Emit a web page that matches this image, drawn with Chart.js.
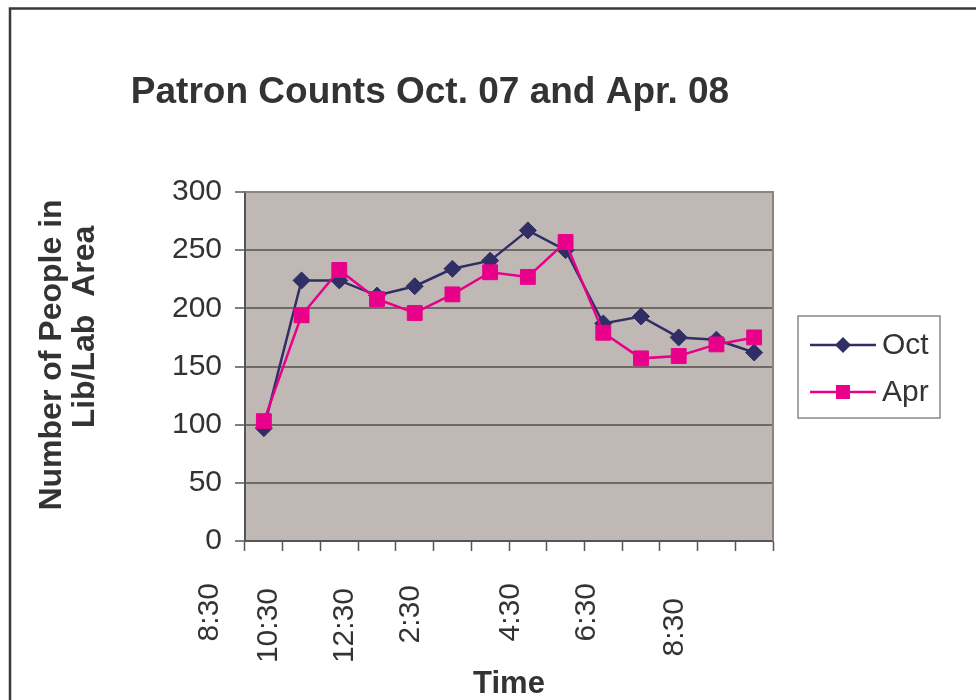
<!DOCTYPE html>
<html>
<head>
<meta charset="utf-8">
<script src="https://cdn.jsdelivr.net/npm/chart.js@4"></script>
<style>
    body { margin: 0; background: #fff; }
    canvas { display: block; }
</style>
</head>
<body>
<canvas id="chart" width="976" height="700"></canvas>
<script>
Chart.defaults.font.family = '"Liberation Sans", Arial, sans-serif'
Chart.defaults.color = '#333'

const times = ['8:30', '9:30', '10:30', '11:30', '12:30', '1:30', '2:30', '3:30', '4:30', '5:30', '6:30', '7:30', '8:30', '9:30']
const oct = [97, 224, 224, 211, 219, 234, 241, 267, 250, 187, 193, 175, 173, 162]
const apr = [103, 194, 233, 208, 196, 212, 231, 227, 257, 179, 157, 159, 169, 175]
const yTicks = [0, 50, 100, 150, 200, 250, 300]
const shownTimes = ['8:30', '10:30', '12:30', '2:30', '4:30', '6:30', '8:30']

// the time labels sit where the spreadsheet left them, not under the ticks
const shownAt = [-1.44, 0.12, 2.14, 3.9, 6.54, 8.55, 10.9]
const shownTop = [583, 588, 588, 585, 583, 583, 598]

const octColor = '#2f2f66'
const aprColor = '#e8008a'


function diamond(ctx, x, y, r) {
    ctx.beginPath()
    ctx.moveTo(x, y - r)
    ctx.lineTo(x + r, y)
    ctx.lineTo(x, y + r)
    ctx.lineTo(x - r, y)
    ctx.closePath()
    ctx.fill()
}

const frame = {
    id: 'frame',
    beforeDraw(chart) {
        const { ctx, chartArea: a } = chart
        ctx.save()
        ctx.fillStyle = '#fff'
        ctx.fillRect(0, 0, chart.width, chart.height)
        ctx.strokeStyle = '#3a3a3a'
        ctx.lineWidth = 2.5
        ctx.strokeRect(10, 8.5, chart.width + 20, chart.height + 20)
        ctx.fillStyle = '#c0b8b5'
        ctx.fillRect(a.left, a.top, a.right - a.left, a.bottom - a.top)
        ctx.restore()
    },
    beforeDatasetsDraw(chart) {
        const { ctx, chartArea: a } = chart
        ctx.save()
        ctx.strokeStyle = '#8c8482'
        ctx.lineWidth = 2
        ctx.beginPath()
        ctx.moveTo(a.left, a.top)
        ctx.lineTo(a.right, a.top)
        ctx.lineTo(a.right, a.bottom)
        ctx.stroke()
        ctx.restore()
    },
    afterDraw(chart) {
        const { ctx, chartArea: a } = chart
        const x = chart.scales.x
        ctx.save()
        ctx.fillStyle = '#333'

        ctx.font = 'bold 37px "Liberation Sans", Arial, sans-serif'
        ctx.textAlign = 'center'
        ctx.textBaseline = 'middle'
        ctx.fillText('Patron Counts Oct. 07 and Apr. 08', 430, 93)

        ctx.font = 'bold 32px "Liberation Sans", Arial, sans-serif'
        ctx.save()
        ctx.translate(52, 355)
        ctx.rotate(-Math.PI / 2)
        ctx.fillText('Number of People in', 0, 0)
        ctx.restore()
        ctx.save()
        ctx.translate(85, 327)
        ctx.rotate(-Math.PI / 2)
        ctx.fillText('Lib/Lab  Area', 0, 0)
        ctx.restore()

        ctx.font = '30px "Liberation Sans", Arial, sans-serif'
        ctx.textAlign = 'right'
        shownTimes.forEach((t, i) => {
            ctx.save()
            ctx.translate(x.getPixelForValue(shownAt[i]), shownTop[i])
            ctx.rotate(-Math.PI / 2)
            ctx.fillText(t, 0, 0)
            ctx.restore()
        })

        // legend
        const lx = a.right + 25
        const ly = a.top + 124
        ctx.strokeStyle = '#888'
        ctx.lineWidth = 1.5
        ctx.strokeRect(lx, ly, 142, 102)
        ctx.textAlign = 'left'
        const rows = [['Oct', octColor, 29], ['Apr', aprColor, 76]]
        rows.forEach(([name, color, dy]) => {
            const cy = ly + dy
            ctx.strokeStyle = color
            ctx.fillStyle = color
            ctx.lineWidth = 2.5
            ctx.beginPath()
            ctx.moveTo(lx + 12, cy)
            ctx.lineTo(lx + 78, cy)
            ctx.stroke()
            if (name === 'Oct') diamond(ctx, lx + 45, cy, 8)
            else ctx.fillRect(lx + 38, cy - 7, 14, 14)
            ctx.fillStyle = '#333'
            ctx.fillText(name, lx + 84, cy + 1)
        })
        ctx.restore()
    }
}

new Chart('chart', {
    type: 'line',
    data: {
        labels: times,
        datasets: [
            {
                label: 'Oct',
                data: oct,
                borderColor: octColor,
                backgroundColor: octColor,
                borderWidth: 2.5,
                pointStyle: 'rectRot',
                pointRadius: 8.5,
                pointBorderWidth: 1,
                order: 1
            },
            {
                label: 'Apr',
                data: apr,
                borderColor: aprColor,
                backgroundColor: aprColor,
                borderWidth: 2.5,
                pointStyle: 'rect',
                pointRadius: 10.5,
                pointBorderWidth: 1,
                order: 0
            }
        ]
    },
    options: {
        responsive: false,
        animation: false,
        layout: { padding: { top: 192, left: 20, right: 203, bottom: 0 } },
        plugins: {
            legend: { display: false },
            tooltip: { enabled: false }
        },
        scales: {
            x: {
                offset: true,
                grid: { offset: true, drawOnChartArea: false, drawTicks: true, tickLength: 10, tickColor: '#555', tickWidth: 1.5 },
                border: { color: '#555', width: 2 },
                ticks: { display: false },
                title: {
                    display: true,
                    text: 'Time',
                    font: { size: 31, weight: 'bold', lineHeight: 1 },
                    color: '#333',
                    padding: { top: 0, bottom: 0 }
                },
                afterFit: axis => { axis.height = 159 }
            },
            y: {
                min: 0,
                max: 300,
                afterBuildTicks: axis => { axis.ticks = yTicks.map(v => ({ value: v })) },
                grid: { color: '#6f6a68', lineWidth: 2, tickLength: 10, tickColor: '#555', tickWidth: 1.5 },
                border: { color: '#555', width: 2 },
                ticks: { font: { size: 30 }, color: '#333', padding: 13 },
                afterFit: axis => { axis.width = 225 }
            }
        }
    },
    plugins: [frame]
})
</script>
</body>
</html>
